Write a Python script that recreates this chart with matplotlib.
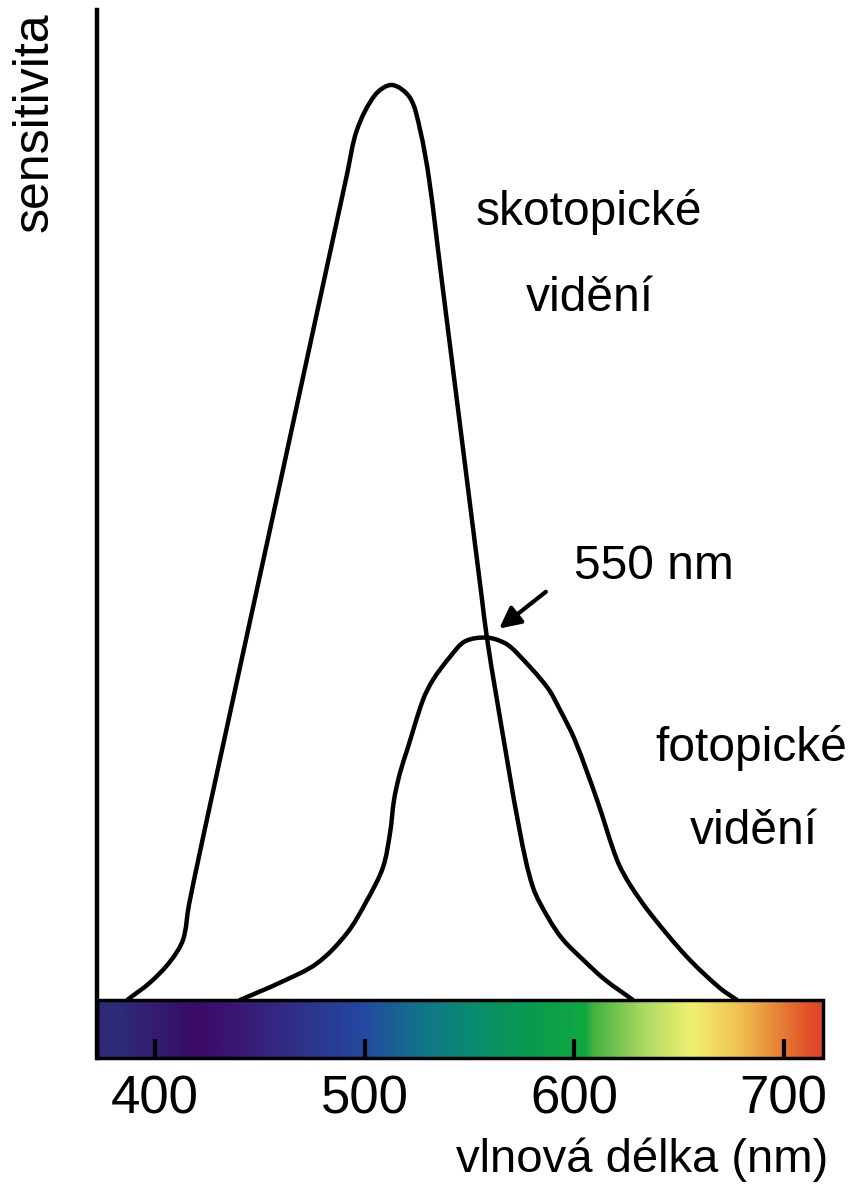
import numpy as np
import matplotlib
matplotlib.use("Agg")
import matplotlib.pyplot as plt
from matplotlib.colors import LinearSegmentedColormap
from matplotlib.patches import Rectangle, PathPatch
from matplotlib.path import Path

plt.rcParams['font.family'] = ['Liberation Sans', 'DejaVu Sans']

# scotopic curve (wavelength nm, relative sensitivity)
scot_nm = [386.7, 397.6, 407.2, 413.4, 416.2, 425.4, 457.9, 491.6, 496.4, 505.0,
           513.1, 521.7, 526.5, 530.8, 537.0, 545.1, 556.1, 558.4, 563.2, 574.2,
           580.4, 587.6, 594.7, 605.2, 614.8, 628.1]
scot_val = [0.0, 0.019, 0.042, 0.066, 0.104, 0.204, 0.546, 0.902, 0.951, 0.989,
            1.0, 0.986, 0.951, 0.897, 0.784, 0.637, 0.437, 0.396, 0.328, 0.183,
            0.123, 0.090, 0.066, 0.042, 0.022, 0.0]

# photopic curve
fot_nm = [440.6, 459.7, 477.3, 491.6, 501.2, 508.8, 512.2, 514.1, 516.9, 520.3,
          527.9, 532.7, 540.8, 548.0, 558.4, 567.0, 572.8, 587.1, 593.3, 600.4,
          610.9, 620.5, 626.7, 636.2, 653.9, 669.6, 677.7]
fot_val = [0.0, 0.019, 0.040, 0.073, 0.109, 0.145, 0.183, 0.219, 0.248, 0.273,
           0.328, 0.350, 0.375, 0.392, 0.396, 0.390, 0.379, 0.342, 0.317, 0.284,
           0.219, 0.153, 0.126, 0.095, 0.047, 0.013, 0.0]

# spectrum colours along the bar
spec_nm = [372.3, 383.3, 419.1, 443.0, 466.8, 498.7, 530.3, 552.7, 577.5, 606.1,
           609.0, 632.8, 656.7, 680.5, 696.7, 715.8, 718.8]
spec_col = ['#2e2a78', '#2e2a78', '#3a0a68', '#3a1a78', '#303088', '#2448a0',
            '#107888', '#088c70', '#089a50', '#10a840', '#40b040', '#a8d860',
            '#f0f070', '#f0c050', '#e88838', '#e04828', '#e04828']

ticks = [400, 500, 600, 700]
xmin, xmax = 372.3, 718.8
ymin, ymax = -0.0634, 1.082


def smooth_path(ax, xs, ys):
    # chord-length catmull-rom through the read points (bezier segments)
    pts = ax.transData.transform(np.column_stack([xs, ys]))
    n = len(pts)
    t = np.concatenate([[0], np.cumsum(np.hypot(*np.diff(pts, axis=0).T))])
    m = np.zeros_like(pts)
    m[0] = (pts[1] - pts[0]) / (t[1] - t[0])
    m[-1] = (pts[-1] - pts[-2]) / (t[-1] - t[-2])
    for i in range(1, n - 1):
        m[i] = (pts[i + 1] - pts[i - 1]) / (t[i + 1] - t[i - 1])
    verts = [pts[0]]
    codes = [Path.MOVETO]
    for i in range(n - 1):
        dt = t[i + 1] - t[i]
        verts += [pts[i] + m[i] * dt / 3, pts[i + 1] - m[i + 1] * dt / 3, pts[i + 1]]
        codes += [Path.CURVE4] * 3
    verts = ax.transData.inverted().transform(np.array(verts))
    return Path(verts, codes)


fig = plt.figure(figsize=(8.53, 11.85), dpi=100)
ax = fig.add_axes([0.1137, 0.1072, 0.8511, 0.8844])
ax.set_xlim(xmin, xmax)
ax.set_ylim(ymin, ymax)

# colour bar
pos = [(n - xmin) / (xmax - xmin) for n in spec_nm]
cmap = LinearSegmentedColormap.from_list('spec', list(zip(pos, spec_col)))
grad = np.linspace(0, 1, 400).reshape(1, -1)
ax.imshow(grad, cmap=cmap, aspect='auto', extent=[xmin, xmax, ymin, 0],
          interpolation='bilinear', zorder=1)
ax.add_patch(Rectangle((xmin, ymin), xmax - xmin, -ymin, fill=False,
                       edgecolor='black', lw=2.5, zorder=3, clip_on=False))

for xs, ys in [(scot_nm, scot_val), (fot_nm, fot_val)]:
    ax.add_patch(PathPatch(smooth_path(ax, xs, ys), fill=False, edgecolor='black',
                           lw=3.2, capstyle='round', joinstyle='round', zorder=2))

ax.annotate('', xy=(563.2, 0.404), xytext=(587.6, 0.448),
            arrowprops=dict(arrowstyle='-|>', color='black', lw=3, mutation_scale=32))

fs = 34.5
ax.text(607.1, 0.861, 'skotopické', fontsize=fs, ha='center', va='center')
ax.text(607.6, 0.767, 'vidění', fontsize=fs, ha='center', va='center')
ax.text(638.1, 0.474, '550 nm', fontsize=fs, ha='center', va='center')
ax.text(684.8, 0.275, 'fotopické', fontsize=fs, ha='center', va='center')
ax.text(685.9, 0.184, 'vidění', fontsize=fs, ha='center', va='center')

ax.set_xlim(xmin, xmax)
ax.set_ylim(ymin, ymax)
ax.set_xticks(ticks)
ax.set_xticklabels([str(t) for t in ticks], fontsize=38)
ax.tick_params(axis='x', direction='in', length=14, width=3, pad=12)
ax.set_yticks([])
for s in ['top', 'right', 'bottom']:
    ax.spines[s].set_visible(False)
ax.spines['left'].set_linewidth(3.2)

fig.text(0.041, 0.897, 'sensitivita', rotation=90, fontsize=36, ha='center', va='center')
fig.text(0.9707, 0.0211, 'vlnová délka (nm)', fontsize=34, ha='right', va='center')

fig.savefig('out.png', dpi=100)
